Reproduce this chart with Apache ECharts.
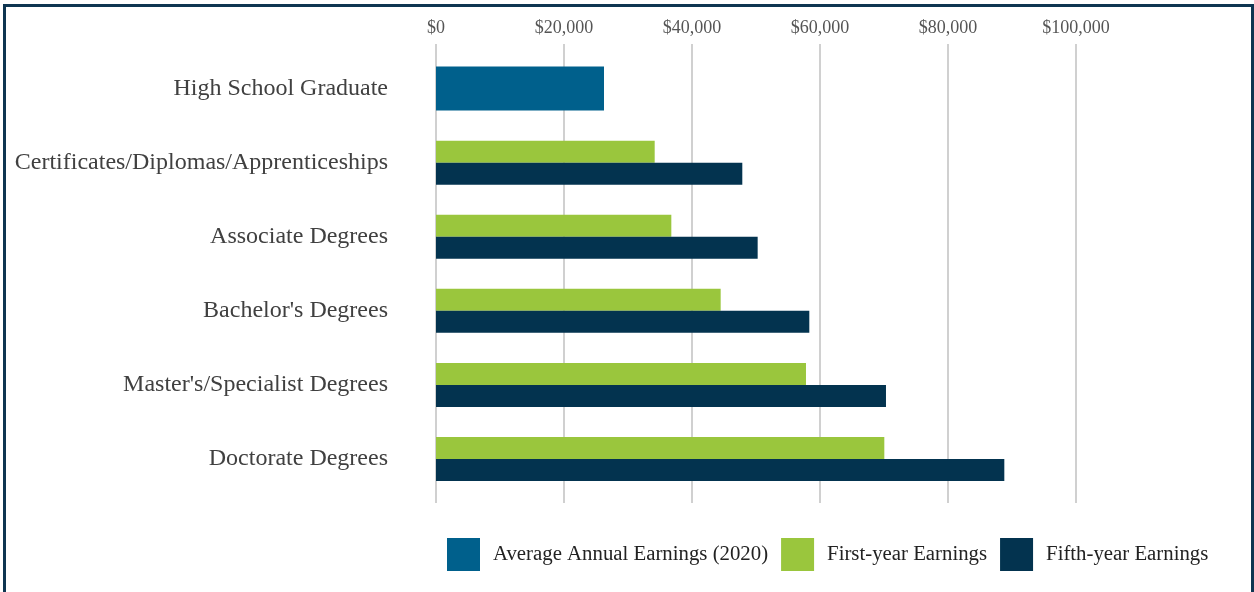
<!DOCTYPE html>
<html>
<head>
<meta charset="utf-8">
<script src="https://cdn.jsdelivr.net/npm/echarts@6/dist/echarts.min.js"></script>
<style>
  html, body { margin: 0; padding: 0; background: #fff; }
  #frame { position: absolute; left: 3px; top: 4px; width: 1245px; height: 600px; border: 3px solid #0e3551; }
  #chart { position: absolute; left: 0; top: 0; width: 1254px; height: 592px; }
</style>
</head>
<body>
<div id="frame"></div>
<div id="chart"></div>
<script>
const categories = [
  'High School Graduate',
  'Certificates/Diplomas/Apprenticeships',
  'Associate Degrees',
  "Bachelor's Degrees",
  "Master's/Specialist Degrees",
  'Doctorate Degrees'
];
const averageEarnings = [26250, null, null, null, null, null];
const firstYear = [null, 34170, 36770, 44480, 57810, 70050];
const fifthYear = [null, 47860, 50260, 58330, 70310, 88800];

const font = 'Liberation Serif';
const myChart = echarts.init(document.getElementById('chart'));

const option = {
  animation: false,
  textStyle: { fontFamily: font },
  grid: [
    { left: 436, width: 640, top: 51.5, bottom: 96 },
    { left: 436, width: 640, top: 44, bottom: 89 }
  ],
  legend: {
    top: 533,
    left: 442,
    itemWidth: 33,
    itemHeight: 33,
    itemGap: 13,
    icon: 'rect',
    textStyle: { fontFamily: font, fontSize: 20.8, color: '#222', padding: [0, 0, 0, 8] },
    data: ['Average Annual Earnings (2020)', 'First-year Earnings', 'Fifth-year Earnings']
  },
  xAxis: [
    { type: 'value', gridIndex: 0, min: 0, max: 100000, interval: 20000, show: false },
    {
      type: 'value', gridIndex: 1, min: 0, max: 100000, interval: 20000,
      position: 'top',
      axisLine: { show: false },
      axisTick: { show: false },
      axisLabel: {
        fontFamily: font, fontSize: 18, color: '#555', margin: 7,
        formatter: v => '$' + v.toLocaleString('en-US')
      },
      splitLine: { lineStyle: { color: '#d0d0d0', width: 2 } }
    }
  ],
  yAxis: [
    {
      type: 'category', gridIndex: 0, data: categories, inverse: true,
      axisLine: { show: false }, axisTick: { show: false },
      axisLabel: { fontFamily: font, fontSize: 24, color: '#404040', margin: 48, padding: [6, 0, 0, 0] }
    },
    {
      type: 'category', gridIndex: 0, data: categories, inverse: true, show: false
    },
    {
      type: 'category', gridIndex: 1, data: categories, inverse: true, show: false
    }
  ],
  series: [
    {
      name: 'Average Annual Earnings (2020)', type: 'bar',
      xAxisIndex: 0, yAxisIndex: 1,
      barWidth: 44,
      itemStyle: { color: '#00608c' },
      data: averageEarnings
    },
    {
      name: 'First-year Earnings', type: 'bar',
      xAxisIndex: 0, yAxisIndex: 0,
      barWidth: 22, barGap: '0%',
      itemStyle: { color: '#9ac63d' },
      data: firstYear
    },
    {
      name: 'Fifth-year Earnings', type: 'bar',
      xAxisIndex: 0, yAxisIndex: 0,
      barWidth: 22, barGap: '0%',
      itemStyle: { color: '#03334f' },
      data: fifthYear
    }
  ]
};

myChart.setOption(option);
window.onresize = function () {
  myChart.resize();
};
</script>
</body>
</html>
